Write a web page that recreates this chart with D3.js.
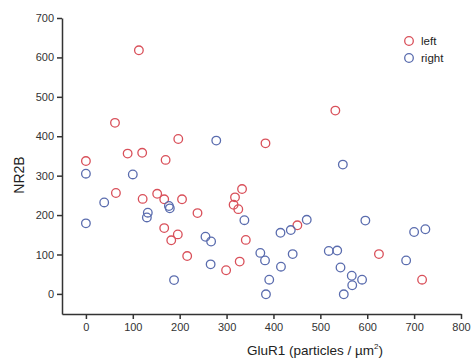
<!DOCTYPE html>
<html>
<head>
<meta charset="utf-8">
<script src="https://cdn.jsdelivr.net/npm/d3@7"></script>
<style>
  body { margin: 0; background: #fff; }
  svg { font-family: Arial, "Liberation Sans", sans-serif; }
  .axis path, .axis line { stroke: #333; stroke-width: 1.5; }
  .axis text { fill: #333; font-size: 11px; }
</style>
</head>
<body>
<svg id="chart" width="471" height="360"></svg>
<script>
// left (red) points: [GluR1, NR2B]
var leftPts = [[0,337],[62,434],[113,618],[89,356],[120,358],[170,340],[197,393],[383,382],
  [532,465],[64,256],[121,241],[152,254],[167,240],[205,240],[238,205],[167,167],[196,151],
  [182,136],[216,96],[299,60],[328,82],[333,266],[318,245],[315,226],[325,215],[341,137],
  [451,174],[625,101],[717,36]];
// right (blue) points
var rightPts = [[0,305],[100,303],[278,389],[548,328],[39,232],[177,223],[179,217],[132,206],
  [130,194],[0,179],[255,145],[267,133],[266,75],[188,35],[338,187],[372,104],[382,85],
  [391,36],[384,-1],[415,155],[437,162],[471,188],[441,101],[416,69],[518,109],[536,110],
  [543,67],[567,46],[568,22],[550,-1],[589,36],[596,186],[683,85],[700,157],[724,164]];
var xTicks = [0,100,200,300,400,500,600,700,800];
var yTicks = [0,100,200,300,400,500,600,700];
var seriesNames = ["left", "right"];
var seriesColors = ["#d9505a", "#5a6cae"];

var svg = d3.select("#chart");
var margin = {top: 18, right: 10, bottom: 46, left: 62},
    width = +svg.attr("width") - margin.left - margin.right,
    height = +svg.attr("height") - margin.top - margin.bottom;

var x = d3.scaleLinear().domain([-51, 800]).range([0, width]);
var y = d3.scaleLinear().domain([-51, 700]).range([height, 0]);

var g = svg.append("g").attr("transform", "translate(" + margin.left + "," + margin.top + ")");

g.append("g")
    .attr("class", "axis")
    .attr("transform", "translate(0," + height + ")")
    .call(d3.axisBottom(x).tickValues(xTicks).tickSize(5).tickSizeOuter(0).tickPadding(4));

g.append("g")
    .attr("class", "axis")
    .call(d3.axisLeft(y).tickValues(yTicks).tickSize(5).tickSizeOuter(0).tickPadding(3));

[leftPts, rightPts].forEach(function(pts, i) {
  g.append("g").selectAll("circle")
    .data(pts)
    .enter().append("circle")
      .attr("cx", function(d) { return x(d[0]); })
      .attr("cy", function(d) { return y(d[1]); })
      .attr("r", 4.3)
      .attr("fill", "none")
      .attr("stroke", seriesColors[i])
      .attr("stroke-width", 1.3);
});

// legend
var leg = svg.append("g").attr("transform", "translate(409,41)");
seriesNames.forEach(function(name, i) {
  var row = leg.append("g").attr("transform", "translate(0," + (i * 17) + ")");
  row.append("circle").attr("r", 4.3).attr("fill", "none")
    .attr("stroke", seriesColors[i]).attr("stroke-width", 1.3);
  row.append("text").attr("x", 12).attr("y", 4).attr("font-size", 11.5).attr("fill", "#222").text(name);
});

// axis titles
svg.append("text")
    .attr("x", 315).attr("y", 355)
    .attr("text-anchor", "middle")
    .attr("font-size", 13.5).attr("fill", "#222")
    .html("GluR1 (particles / µm<tspan dy='-6' font-size='8'>2</tspan><tspan dy='6'>)</tspan>");

svg.append("text")
    .attr("transform", "translate(24,175) rotate(-90)")
    .attr("text-anchor", "middle")
    .attr("font-size", 14).attr("fill", "#222")
    .text("NR2B");
</script>
</body>
</html>
